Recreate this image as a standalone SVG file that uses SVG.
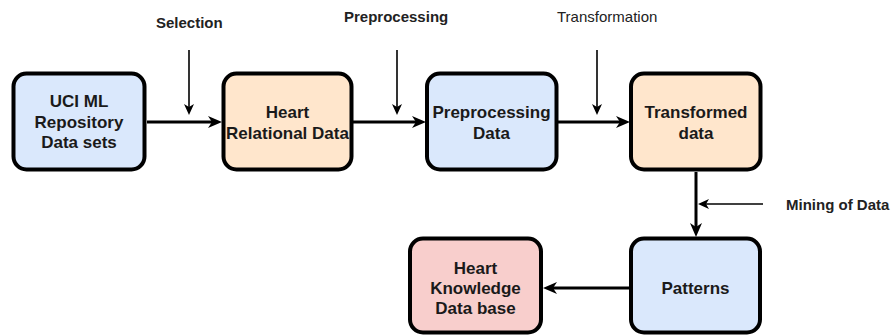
<svg xmlns="http://www.w3.org/2000/svg" width="891" height="336" viewBox="0 0 891 336">
<style>
.box{stroke:#000;stroke-width:4}
.blue{fill:#dae8fc}
.orange{fill:#ffe6cc}
.red{fill:#f8cecc}
.t{font-family:"Liberation Sans",Arial,sans-serif;font-size:17px;font-weight:bold;fill:#1a1a1a;text-anchor:middle}
.lbl{font-family:"Liberation Sans",Arial,sans-serif;font-size:15px;font-weight:bold;fill:#222}
.main{stroke:#000;stroke-width:3;fill:none}
.thin{stroke:#000;stroke-width:1.6;fill:none}
</style>
<defs>
<marker id="big" markerUnits="userSpaceOnUse" viewBox="0 0 14 12" refX="4" refY="6" markerWidth="14" markerHeight="12" orient="auto">
<path d="M0,0 L14,6 L0,12 L4,6 z" fill="#000"/>
</marker>
<marker id="small" markerUnits="userSpaceOnUse" viewBox="0 0 11 10" refX="3" refY="5" markerWidth="11" markerHeight="10" orient="auto">
<path d="M0,0 L11,5 L0,10 L3,5 z" fill="#000"/>
</marker>
</defs>
<rect width="891" height="336" fill="#fff"/>
<g id="connectors">
<line class="main" x1="147" y1="122" x2="212" y2="122" marker-end="url(#big)"/>
<line class="main" x1="353" y1="122" x2="416" y2="122" marker-end="url(#big)"/>
<line class="main" x1="558" y1="122" x2="620" y2="122" marker-end="url(#big)"/>
<line class="main" x1="696" y1="172" x2="696" y2="227" marker-end="url(#big)"/>
<line class="main" x1="629" y1="288" x2="553" y2="288" marker-end="url(#big)"/>
<line class="thin" x1="189" y1="50" x2="189" y2="107" marker-end="url(#small)"/>
<line class="thin" x1="397" y1="50" x2="397" y2="107" marker-end="url(#small)"/>
<line class="thin" x1="597" y1="50" x2="597" y2="107" marker-end="url(#small)"/>
<line class="thin" x1="763" y1="204" x2="706" y2="204" marker-end="url(#small)"/>
</g>
<g id="label-selection"><text class="lbl" x="156" y="28">Selection</text></g>
<g id="label-preprocessing"><text class="lbl" x="344" y="22">Preprocessing</text></g>
<g id="label-transformation"><text class="lbl" x="557" y="22" font-weight="normal" style="font-weight:normal">Transformation</text></g>
<g id="label-mining"><text class="lbl" x="786" y="210">Mining of Data</text></g>
<g id="node-uci">
<rect class="box blue" x="13.5" y="73.5" width="131" height="96" rx="13"/>
<text class="t" x="79" y="107">UCI ML</text>
<text class="t" x="79" y="128">Repository</text>
<text class="t" x="79" y="148">Data sets</text>
</g>
<g id="node-heart-relational">
<rect class="box orange" x="223.5" y="73.5" width="128" height="96" rx="13"/>
<text class="t" x="287.5" y="118">Heart</text>
<text class="t" x="287.5" y="139">Relational Data</text>
</g>
<g id="node-preprocessing">
<rect class="box blue" x="427" y="73.5" width="129.5" height="96" rx="13"/>
<text class="t" x="491.5" y="118">Preprocessing</text>
<text class="t" x="491.5" y="139">Data</text>
</g>
<g id="node-transformed">
<rect class="box orange" x="631" y="73.5" width="129.5" height="96" rx="13"/>
<text class="t" x="696" y="118">Transformed</text>
<text class="t" x="696" y="139">data</text>
</g>
<g id="node-patterns">
<rect class="box blue" x="631" y="238.5" width="129" height="94" rx="13"/>
<text class="t" x="695.5" y="294">Patterns</text>
</g>
<g id="node-heart-knowledge">
<rect class="box red" x="410" y="238.5" width="131" height="94" rx="13"/>
<text class="t" x="475.5" y="274">Heart</text>
<text class="t" x="475.5" y="294">Knowledge</text>
<text class="t" x="475.5" y="314">Data base</text>
</g>
</svg>
